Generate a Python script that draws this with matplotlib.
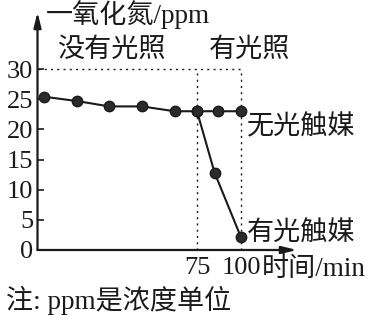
import numpy as np
import matplotlib
matplotlib.use('Agg')
import matplotlib.pyplot as plt

# ---- data ----
time_dark = [0, 16, 32, 48, 64, 75]
no_dark = [25.4, 24.7, 23.8, 23.8, 23.0, 23.0]
time_no_cat = [75, 87, 100]
no_no_cat = [23.0, 23.0, 23.0]
time_cat = [75, 85, 100]
no_cat = [23.0, 12.8, 2.1]
yticks = [0, 5, 10, 15, 20, 25, 30]
xticks = [75, 100]
xtick_labels = ["75", "100"]
light_start, light_end, ref_level = 75, 100, 30

plt.rcParams['font.family'] = ['Liberation Serif', 'Noto Sans CJK SC']

W, H = 385, 316
fig = plt.figure(figsize=(W / 100, H / 100), dpi=100)
ax = fig.add_axes([37.5 / W, 66 / H, 259.5 / W, 238 / H])

K = 0.863


def fwd(t):
    t = np.asarray(t, float)
    return np.where(t <= 75, t, 75 + (t - 75) * K)


def inv(p):
    p = np.asarray(p, float)
    return np.where(p <= 75, p, 75 + (p - 75) / K)


ax.set_xscale('function', functions=(fwd, inv))
ax.set_xlim(-3.19, 131.8)
ax.set_ylim(0, 39.45)

ink = '#1a1a1a'
dot = dict(color=ink, lw=1.0, ls=(0, (1.5, 3)))
ax.hlines(ref_level, -3.19, light_end, **dot)
ax.vlines([light_start, light_end], 0, ref_level, **dot)

mk = dict(marker='o', ms=7.5, mfc='#2b2b2b', mec=ink, mew=1, color=ink, lw=1.5)
ax.plot(time_dark + time_no_cat[1:], no_dark + no_no_cat[1:], **mk)
ax.plot(time_cat, no_cat, **mk)

for s in ax.spines.values():
    s.set_visible(False)
arrow = dict(arrowstyle='-|>,head_length=0.9,head_width=0.22',
             color=ink, lw=1.6, shrinkA=0, shrinkB=0)
ax.annotate('', xy=(0, 1), xycoords='axes fraction', xytext=(0, 0), arrowprops=arrow)
ax.annotate('', xy=(1, 0), xycoords='axes fraction', xytext=(0, 0), arrowprops=arrow)

ax.set_yticks(yticks)
ax.set_yticklabels([str(v) for v in yticks])
ax.tick_params(axis='y', direction='in', length=4, width=1.2, pad=3,
               labelsize=19, colors=ink)
ax.set_xticks(xticks)
ax.set_xticklabels(xtick_labels)
ax.tick_params(axis='x', length=0, pad=5, labelsize=19, colors=ink)
ax.minorticks_off()


def ftext(x, y, s, ha='center', size=19.5):
    fig.text(x / W, 1 - y / H, s, ha=ha, va='center', fontsize=size, color=ink)


ftext(46, 15, "一氧化氮/ppm", ha='left')
ftext(111, 50, "没有光照")
ftext(250, 50, "有光照")
ftext(247, 128, "无光触媒", ha='left')
ftext(247, 234, "有光触媒", ha='left')
ftext(262, 269, "时间/min", ha='left')
ftext(6, 300, "注: ppm是浓度单位", ha='left')

fig.savefig('out.png', dpi=100)
